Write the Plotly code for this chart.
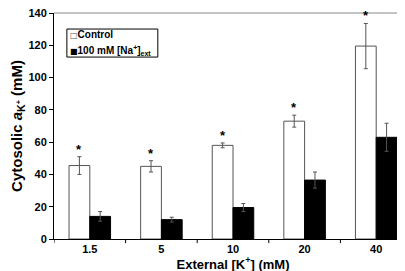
import plotly.graph_objects as go

categories = ["1.5", "5", "10", "20", "40"]
control = [45.5, 45, 58, 73, 119.5]
control_err = [5.5, 3.5, 1.5, 3.7, 14]
sodium = [14, 12, 19.5, 36.5, 63]
sodium_err = [3, 1.5, 2.5, 5, 8.7]
significant = [True, True, True, True, True]
legend_labels = ["Control", "100 mM [Na<sup>+</sup>]<sub>ext</sub>"]

FONT = "Liberation Sans, Arial, sans-serif"

fig = go.Figure()
fig.add_trace(go.Bar(
    x=categories, y=control, name=legend_labels[0],
    marker=dict(color="white", line=dict(color="#555555", width=1)),
    error_y=dict(type="data", array=control_err, color="#555555", thickness=1, width=2),
))
fig.add_trace(go.Bar(
    x=categories, y=sodium, name=legend_labels[1],
    marker=dict(color="black", line=dict(color="black", width=1)),
    error_y=dict(type="data", array=sodium_err, color="#555555", thickness=1, width=2),
))

bargap = 0.42
offset = (1 - bargap) / 4
for i, (v, e, s) in enumerate(zip(control, control_err, significant)):
    if s:
        fig.add_annotation(x=i - offset, y=v + e, text="<b>*</b>", showarrow=False,
                           yanchor="bottom", yshift=-2,
                           font=dict(family=FONT, size=13, color="black"))

# compact legend drawn as a box with two text rows
fig.add_shape(type="rect", xref="paper", yref="paper", x0=0.036, x1=0.29, y0=0.805, y1=0.929,
              line=dict(color="black", width=1), fillcolor="white", layer="above")
legend_syms = ["<span style='font-size:8px;font-family:DejaVu Sans;color:#555'>\u25a1</span>",
               "<span style='font-size:8px;font-family:DejaVu Sans'>\u25a0</span>"]
legend_y = [0.905, 0.836]
for sym, lab, ly in zip(legend_syms, legend_labels, legend_y):
    fig.add_annotation(xref="paper", yref="paper", x=0.04, y=ly, xanchor="left", yanchor="middle",
                       text=sym + "<b>" + lab + "</b>", showarrow=False, align="left",
                       font=dict(family=FONT, size=10, color="black"))

fig.update_layout(
    width=405, height=271,
    margin=dict(l=46, r=1, t=5, b=40),
    paper_bgcolor="white", plot_bgcolor="white",
    barmode="group", bargap=bargap, bargroupgap=0,
    font=dict(family=FONT, size=11, color="black"),
    showlegend=False,
    xaxis=dict(
        type="category", showline=True, linecolor="black", linewidth=1,
        ticks="", automargin=False,
        tickfont=dict(family=FONT, size=11, color="black"),
        tickprefix="<b>", ticksuffix="</b>",
        title=dict(text="<b>External [K<sup>+</sup>] (mM)</b>", standoff=0,
                   font=dict(family=FONT, size=13, color="black")),
        showgrid=False, range=[-0.5, 4.5],
    ),
    yaxis=dict(
        range=[0, 140], dtick=20, showline=True, linecolor="black", linewidth=1,
        ticks="outside", ticklen=4, tickcolor="black", automargin=False,
        ticklabeloverflow="allow",
        tickfont=dict(family=FONT, size=11, color="black"),
        tickprefix="<b>", ticksuffix="</b>",
        title=dict(text="<b>Cytosolic <i>a</i><sub>K<sup>+</sup></sub> (mM)</b>", standoff=6,
                   font=dict(family=FONT, size=15, color="black")),
        showgrid=False, zeroline=False,
    ),
)

# category boundary ticks on x axis
for i in range(len(categories) + 1):
    fig.add_shape(type="line", xref="x", yref="paper", x0=i - 0.5, x1=i - 0.5,
                  y0=0, y1=-0.018, line=dict(color="black", width=1))
# gray frame at top and right
fig.add_shape(type="line", xref="paper", yref="paper", x0=0, x1=1, y0=1, y1=1,
              line=dict(color="#888888", width=1))
fig.add_shape(type="line", xref="paper", yref="paper", x0=1, x1=1, y0=0, y1=1,
              line=dict(color="#888888", width=1))

fig.write_html("out.html")
